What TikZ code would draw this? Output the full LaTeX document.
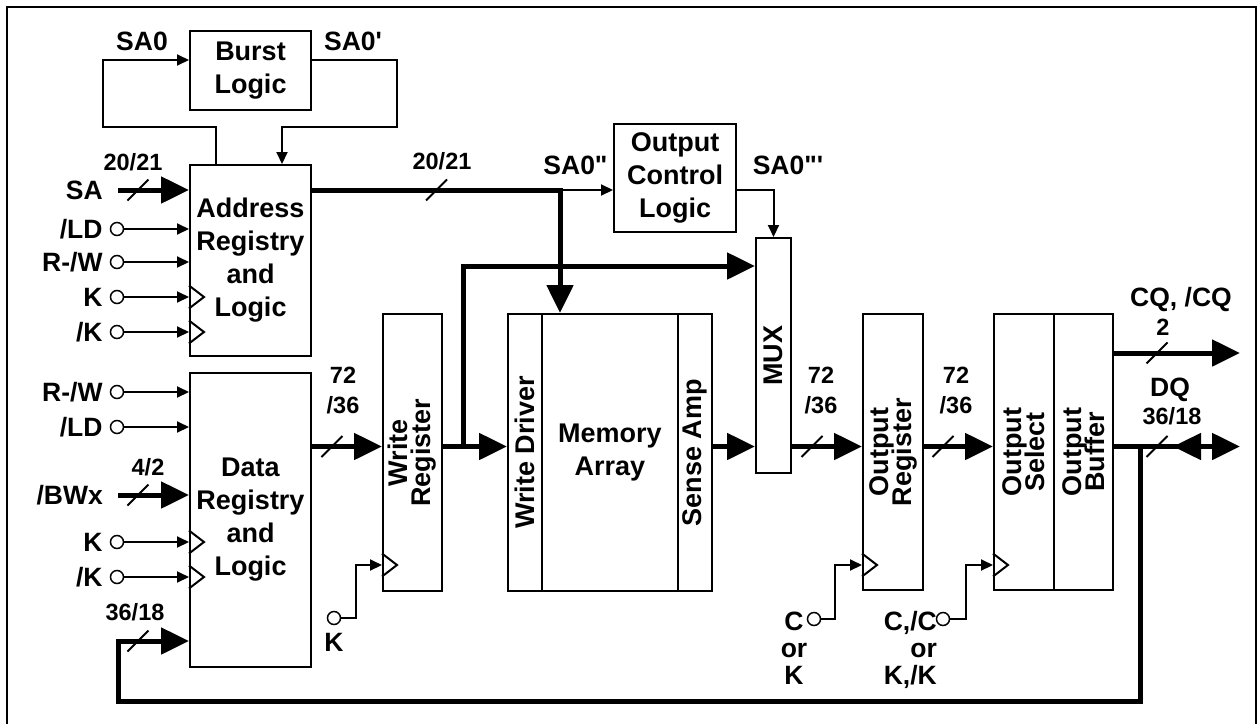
\documentclass[tikz,border=0pt]{standalone}
\usepackage{fontspec}
\setmainfont{Liberation Sans}
\usetikzlibrary{arrows.meta,positioning}
\setlength{\lineskiplimit}{-30pt}
% petites marques
\newcommand{\busmark}[1]{\draw[wire] (#1) ++(-10.5,10.5) -- ++(21,-21);}
\newcommand{\clocktri}[1]{\draw[wire] (#1) ++(0,-11.5) -- ++(15,11.5) -- ++(-15,11.5);}
\begin{document}
\begin{tikzpicture}[
    x=1pt, y=-1pt,  % coordonnées en pixels, y vers le bas
    line join=miter,
    % styles des blocs et textes
    blk/.style={draw, line width=2pt, inner sep=0pt, align=center,
        font=\fontsize{27}{33}\selectfont\bfseries},
    vtxt/.style={rotate=90, inner sep=0pt, align=center,
        font=\fontsize{27}{23}\selectfont\bfseries},
    lbl/.style={inner sep=0pt, font=\fontsize{26.5}{27}\selectfont\bfseries},
    num/.style={inner sep=0pt, align=center, font=\fontsize{23.5}{30}\selectfont\bfseries},
    pin/.style={draw, circle, line width=1.5pt, inner sep=0pt, minimum size=13pt},
    % liaisons
    wire/.style={line width=2pt},
    sig/.style={line width=2pt, -{Triangle[length=12pt,width=11pt]}},
    bus/.style={line width=5pt, -{Triangle[length=28pt,width=26pt]}}
]
\useasboundingbox (0,0) rectangle (1257,723);
\draw[wire] (6.5,6.5) rectangle (1256,730);

% Blocs
\node[blk, minimum width=121pt, minimum height=79pt] (burst) at (250.5,70.5) {Burst\\Logic};
\node[blk, minimum width=121pt, minimum height=191pt] (addr) at (250.5,260.5) {Address\\Registry\\and\\Logic};
\node[blk, minimum width=121pt, minimum height=294pt] (data) at (250.5,520) {Data\\Registry\\and\\Logic};
\node[blk, minimum width=59pt, minimum height=277pt] (wreg) at (412.5,452.5) {};
\node[vtxt] (wregtxt) at (wreg) {Write\\Register};
\node[blk, minimum width=34pt, minimum height=277pt] (wdrv) at (525,452.5) {};
\node[vtxt] (wdrvtxt) at (wdrv) {Write Driver};
\node[blk, minimum width=136pt, minimum height=277pt] (mem) at (610,452.5) {Memory\\Array};
\node[blk, minimum width=34pt, minimum height=277pt] (samp) at (695,452.5) {};
\node[vtxt] (samptxt) at (samp) {Sense Amp};
\node[blk, minimum width=122pt, minimum height=108pt] (ocl) at (675,178) {Output\\Control\\Logic};
\node[blk, minimum width=35pt, minimum height=235pt] (mux) at (773.5,355.5) {};
\node[vtxt] (muxtxt) at (mux) {MUX};
\node[blk, minimum width=60pt, minimum height=276pt] (oreg) at (893,452) {};
\node[vtxt] (oregtxt) at (oreg) {Output\\Register};
\node[blk, minimum width=60pt, minimum height=276pt] (osel) at (1024,452) {};
\node[vtxt] (oseltxt) at (osel) {Output\\Select};
\node[blk, minimum width=59pt, minimum height=276pt] (obuf) at (1083.5,452) {};
\node[vtxt] (obuftxt) at (obuf) {Output\\Buffer};

% Points de passage
\coordinate (row) at (0,446.5);
\coordinate (abus) at (560,190);
\coordinate (wj) at (463,446.5);
\coordinate (fbj) at (1140,446.5);
\coordinate (fb) at (118,641);
\coordinate (sa) at (118,190);
\coordinate (bwx) at (118,495);
\coordinate (cq) at (1240,353);
\coordinate (dq) at (1240,446.5);
\coordinate (dqa) at (1212,446.5);
\coordinate (dqb) at (1173,446.5);

% Boucle burst
\draw[sig] ([xshift=27pt]addr.north west) |- (103,127) |- (burst.west |- 0,60);
\draw[sig] (burst.east |- 0,60) -| (397,127) -| ([xshift=93pt]addr.north west);
\node[lbl] (sa0) at (142,41.5) {SA0};
\node[lbl] (sa1) at (353,41.5) {SA0\textquotesingle};

% Entrées du registre d'adresse
\draw[bus] (sa) -- (sa -| addr.west);
\node[lbl, left=15pt of sa] (salbl) {SA};
\node[num] (sanum) at (133,162) {20/21};
\busmark{138,190}
\node[pin] (ald) at (117,229) {};
\node[lbl, left=7pt of ald] (aldlbl) {/LD};
\draw[sig] (ald) -- (ald -| addr.west);
\node[pin] (arw) at (117,262) {};
\node[lbl, left=7pt of arw] (arwlbl) {R-/W};
\draw[sig] (arw) -- (arw -| addr.west);
\node[pin] (ak) at (117,297) {};
\node[lbl, left=7pt of ak] (aklbl) {K};
\draw[sig] (ak) -- (ak -| addr.west);
\clocktri{ak -| addr.west}
\node[pin] (akn) at (117,332) {};
\node[lbl, left=7pt of akn] (aknlbl) {/K};
\draw[sig] (akn) -- (akn -| addr.west);
\clocktri{akn -| addr.west}

% Entrées du registre de données
\node[pin] (drw) at (117,392) {};
\node[lbl, left=7pt of drw] (drwlbl) {R-/W};
\draw[sig] (drw) -- (drw -| data.west);
\node[pin] (dld) at (117,427) {};
\node[lbl, left=7pt of dld] (dldlbl) {/LD};
\draw[sig] (dld) -- (dld -| data.west);
\draw[bus] (bwx) -- (bwx -| data.west);
\node[lbl, left=15pt of bwx] (bwxlbl) {/BWx};
\node[num] (bwxnum) at (148,467) {4/2};
\busmark{138,495}
\node[pin] (dk) at (117,542) {};
\node[lbl, left=7pt of dk] (dklbl) {K};
\draw[sig] (dk) -- (dk -| data.west);
\clocktri{dk -| data.west}
\node[pin] (dkn) at (117,577) {};
\node[lbl, left=7pt of dkn] (dknlbl) {/K};
\draw[sig] (dkn) -- (dkn -| data.west);
\clocktri{dkn -| data.west}

% Bus d'adresse
\draw[bus] (addr.east |- abus) -- (abus) -- (abus |- mem.north);
\busmark{436.5,190}
\node[num] (abusnum) at (442,161.5) {20/21};
\draw[sig] (abus) -- (abus -| ocl.west);
\node[lbl] (sa2) at (575.5,165) {SA0\textquotedbl};
\draw[sig] (abus -| ocl.east) -| (mux.north);
\node[lbl] (sa3) at (788,165) {SA0\textquotedbl\textquotesingle};

% Chemin des données
\draw[bus] (data.east |- row) -- (wreg.west |- row);
\busmark{332,446.5}
\node[num] (dnum) at (343,391) {72\\/36};
\draw[bus] (wreg.east |- row) -- (wdrv.west |- row);
\draw[bus] (wj) |- (mux.west |- 0,266);
\draw[bus] (samp.east |- row) -- (mux.west |- row);
\draw[bus] (mux.east |- row) -- (oreg.west |- row);
\busmark{812,446.5}
\node[num] (mnum) at (821,391) {72\\/36};
\draw[bus] (oreg.east |- row) -- (osel.west |- row);
\busmark{943,446.5}
\node[num] (onum) at (956,391) {72\\/36};

% Sorties
\draw[bus] (obuf.east |- cq) -- (cq);
\busmark{1157,353}
\node[lbl] (cqlbl) at (1181,299) {CQ, /CQ};
\node[num] (cqnum) at (1163,327) {2};
\draw[bus] (obuf.east |- row) -- (dq);
\draw[bus] (dqa) -- (dqb);
\busmark{1157,446.5}
\node[lbl] (dqlbl) at (1170,390) {DQ};
\node[num] (dqnum) at (1172,416) {36/18};

% Retour DQ vers les données
\draw[bus] (fbj) |- (118,701) -- (fb) -- (fb -| data.west);
\busmark{138,641}
\node[num] (fbnum) at (135,612) {36/18};

% Horloges des registres
\node[pin] (wk) at (334,618) {};
\node[lbl, below=7.5pt of wk] (wklbl) {K};
\draw[sig] (wk) -- (356,618) |- ([yshift=27pt]wreg.south west);
\clocktri{[yshift=27pt]wreg.south west}
\node[pin] (ock) at (814,619) {};
\node[lbl, align=center, anchor=north] (ocklbl) at (794,611.5) {C\\or\\K};
\draw[sig] (ock) -- (835,619) |- ([yshift=26pt]oreg.south west);
\clocktri{[yshift=26pt]oreg.south west}
\node[pin] (sck) at (943,619) {};
\node[lbl, align=right, anchor=north east] (scklbl) at (937,611.5) {C,/C\\or\\K,/K};
\draw[sig] (sck) -- (966,619) |- ([yshift=26pt]osel.south west);
\clocktri{[yshift=26pt]osel.south west}
\end{tikzpicture}
\end{document}
